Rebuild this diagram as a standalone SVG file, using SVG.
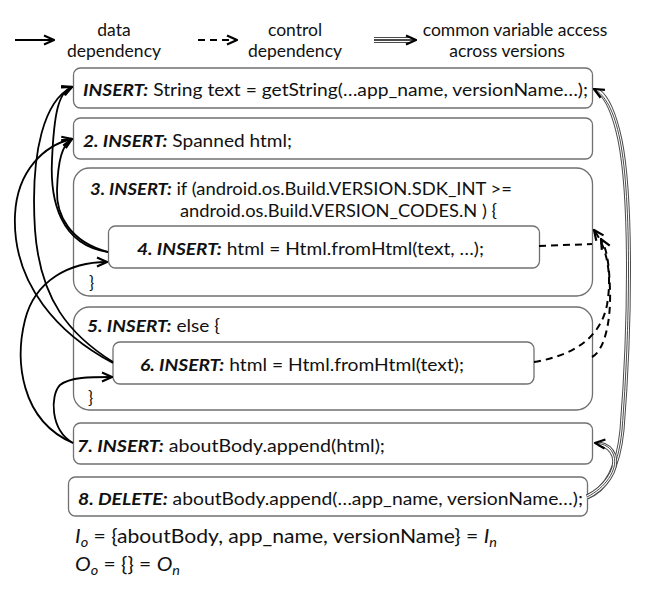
<svg xmlns="http://www.w3.org/2000/svg" width="648" height="594" viewBox="0 0 648 594">
<style>
text{font-family:Lato,"Liberation Sans",sans-serif;font-size:17px;fill:#111}
.lg{font-size:17.5px}
.b{font-weight:bold;font-style:italic}
.i{font-style:italic}
.box{fill:#fff;stroke:#707070;stroke-width:1.3}
.d{fill:none;stroke:#000;stroke-width:1.8}
.c{fill:none;stroke:#000;stroke-width:2;stroke-dasharray:7,5}
.v1{fill:none;stroke:#4a4a4a;stroke-width:5}
.v2{fill:none;stroke:#fff;stroke-width:3}
.v3{fill:none;stroke:#4a4a4a;stroke-width:1}
.f{font-size:19px}
</style>
<defs>
<marker id="ah" viewBox="0 0 12 12" refX="11" refY="6" markerWidth="12" markerHeight="12" markerUnits="userSpaceOnUse" orient="auto">
<path d="M1,1.5 L11,6 L1,10.5" fill="none" stroke="#000" stroke-width="2.2"/>
</marker>
</defs>
<rect width="648" height="594" fill="#fff"/>

<g id="legend">
<path class="d" d="M15,40 L54,40" marker-end="url(#ah)"/>
<text class="lg" x="114" y="36" text-anchor="middle">data</text>
<text class="lg" x="114" y="57" text-anchor="middle">dependency</text>
<path class="c" d="M198,40 L237,40" stroke-dasharray="6,5" marker-end="url(#ah)"/>
<text class="lg" x="295" y="36" text-anchor="middle">control</text>
<text class="lg" x="295" y="57" text-anchor="middle">dependency</text>
<path d="M374,40 L411,40" fill="none" stroke="#4a4a4a" stroke-width="6"/>
<path d="M374,40 L411,40" fill="none" stroke="#fff" stroke-width="4"/>
<path d="M374,40 L416,40" fill="none" stroke="#4a4a4a" stroke-width="2" marker-end="url(#ah)"/>
<text class="lg" x="515" y="36" text-anchor="middle">common variable access</text>
<text class="lg" x="507" y="57" text-anchor="middle">across versions</text>
</g>

<g id="n1">
<rect class="box" x="73.5" y="68" width="519" height="40" rx="7"/>
<text x="83" y="96" textLength="505" lengthAdjust="spacingAndGlyphs"><tspan class="b">INSERT:</tspan> String text = getString(…app_name, versionName…);</text>
</g>
<g id="n2">
<rect class="box" x="73.5" y="118" width="519" height="41" rx="7"/>
<text x="83" y="147" textLength="209" lengthAdjust="spacingAndGlyphs"><tspan class="b">2. INSERT:</tspan> Spanned html;</text>
</g>
<g id="n3">
<rect class="box" x="73.5" y="168" width="519" height="128" rx="16"/>
<text x="90" y="195" textLength="422" lengthAdjust="spacingAndGlyphs"><tspan class="b">3. INSERT:</tspan> if (android.os.Build.VERSION.SDK_INT &gt;=</text>
<text x="180" y="217" textLength="317" lengthAdjust="spacingAndGlyphs">android.os.Build.VERSION_CODES.N ) {</text>
<text x="89" y="289">}</text>
</g>
<g id="n4">
<rect class="box" x="108.5" y="226" width="431" height="42" rx="7"/>
<text x="137" y="255" textLength="347" lengthAdjust="spacingAndGlyphs"><tspan class="b">4. INSERT:</tspan> html = Html.fromHtml(text, …);</text>
</g>
<g id="n5">
<rect class="box" x="73.5" y="307" width="519" height="103" rx="16"/>
<text x="87" y="332" textLength="133" lengthAdjust="spacingAndGlyphs"><tspan class="b">5. INSERT:</tspan> else {</text>
<text x="88" y="404">}</text>
</g>
<g id="n6">
<rect class="box" x="113" y="342" width="421" height="42" rx="7"/>
<text x="140" y="371" textLength="324" lengthAdjust="spacingAndGlyphs"><tspan class="b">6. INSERT:</tspan> html = Html.fromHtml(text);</text>
</g>
<g id="n7">
<rect class="box" x="73.5" y="423" width="519" height="41" rx="7"/>
<text x="77" y="452" textLength="308" lengthAdjust="spacingAndGlyphs"><tspan class="b">7. INSERT:</tspan> aboutBody.append(html);</text>
</g>
<g id="n8">
<rect class="box" x="68.5" y="477" width="519" height="39" rx="7"/>
<text x="78" y="505" textLength="505" lengthAdjust="spacingAndGlyphs"><tspan class="b">8. DELETE:</tspan> aboutBody.append(…app_name, versionName…);</text>
</g>

<g id="sets">
<text class="f" x="75" y="543" textLength="422" lengthAdjust="spacingAndGlyphs"><tspan class="i">I</tspan><tspan class="i" font-size="13" dy="4">o</tspan><tspan dy="-4"> = {aboutBody, app_name, versionName} = </tspan><tspan class="i">I</tspan><tspan class="i" font-size="13" dy="4">n</tspan></text>
<text class="f" x="75" y="571" textLength="105" lengthAdjust="spacingAndGlyphs"><tspan class="i">O</tspan><tspan class="i" font-size="13" dy="4">o</tspan><tspan dy="-4"> = {} = </tspan><tspan class="i">O</tspan><tspan class="i" font-size="13" dy="4">n</tspan></text>
</g>

<g id="connectors">
<path class="d" d="M108,252 C60,245 50,200 52,160 C54,115 58,92 72,87" marker-end="url(#ah)"/>
<path class="d" d="M108,252 C70,242 56,215 57,190 C58,160 62,145 72,139" marker-end="url(#ah)"/>
<path class="d" d="M113,362 C70,335 40,300 35,230 C30,150 45,100 72,87" marker-end="url(#ah)"/>
<path class="d" d="M113,363 C60,335 12,285 15,215 C17,170 45,145 72,139" marker-end="url(#ah)"/>
<path class="d" d="M73,443 C20,420 15,360 25,320 C35,280 70,262 107,262" marker-end="url(#ah)"/>
<path class="d" d="M73,443 C50,430 50,395 60,385 C70,377 90,377 112,377" marker-end="url(#ah)"/>

<path class="c" d="M539,246 L592,244"/>
<path class="c" d="M534,362 C570,356 600,340 607,305 C613,270 605,245 594,230" marker-end="url(#ah)"/>
<path class="c" d="M592,357 C605,350 611,320 610,290 C609,262 607,250 601,239" marker-end="url(#ah)"/>

<path class="v1" d="M587,497 C605,490 618,470 622,430 C630,330 632,200 620,140 C614,112 607,97 598,91"/>
<path class="v2" d="M587,497 C605,490 618,470 622,430 C630,330 632,200 620,140 C614,112 607,97 598,91"/>
<path class="v3" d="M587,497 C605,490 618,470 622,430 C630,330 632,200 620,140 C614,110 605,95 594,89" marker-end="url(#ah)"/>
<path class="v1" d="M587,497 C605,488 618,470 614,456 C611,448 606,445 599,444"/>
<path class="v2" d="M587,497 C605,488 618,470 614,456 C611,448 606,445 599,444"/>
<path class="v3" d="M587,497 C605,488 618,470 614,456 C611,447 605,444 595,443" marker-end="url(#ah)"/>
</g>
</svg>
